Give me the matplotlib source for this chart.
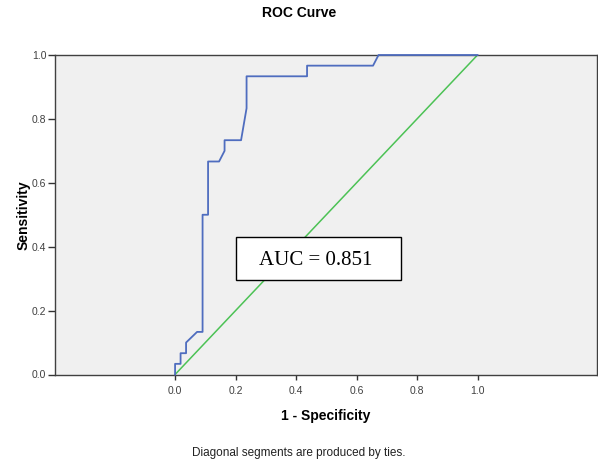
import matplotlib
matplotlib.use("Agg")
import matplotlib.pyplot as plt
from matplotlib.patches import Rectangle

# ROC curve data (55 negatives, 30 positives)
fpr = [0, 0, 1/55, 1/55, 2/55, 2/55, 4/55, 5/55, 5/55, 6/55, 6/55, 8/55, 9/55, 9/55,
       12/55, 13/55, 13/55, 24/55, 24/55, 36/55, 37/55, 1.0]
tpr = [0, 1/30, 1/30, 2/30, 2/30, 3/30, 4/30, 4/30, 15/30, 15/30, 20/30, 20/30, 21/30, 22/30,
       22/30, 25/30, 28/30, 28/30, 29/30, 29/30, 1.0, 1.0]
ref_x = [0, 1]
ref_y = [0, 1]
auc_text = "AUC = 0.851"
xticks = [0.0, 0.2, 0.4, 0.6, 0.8, 1.0]
yticks = [0.0, 0.2, 0.4, 0.6, 0.8, 1.0]

plt.rcParams['font.family'] = ['Liberation Sans', 'DejaVu Sans']

fig = plt.figure(figsize=(5.98, 4.66), dpi=100)
ax = fig.add_axes([55/598, 1-374.5/466, (597-55)/598, (374.5-55)/466])
ax.set_facecolor('#f0f0f0')

ax.plot(ref_x, ref_y, color='#4cc255', lw=1.1, zorder=2)
ax.plot(fpr, tpr, color='#4f6dbf', lw=1.3, zorder=3, clip_on=False)

ax.set_xlim(-0.397, 1.395)
ax.set_ylim(0, 1)
ax.set_xticks(xticks)
ax.set_xticklabels([f"{v:.1f}" for v in xticks])
ax.set_yticks(yticks)
ax.set_yticklabels([f"{v:.1f}" for v in yticks])
ax.tick_params(axis='both', labelsize=7.5, labelcolor='#404040', color='#333333',
               width=1, direction='out')
ax.tick_params(axis='x', length=3.6, pad=5)
ax.tick_params(axis='y', length=5, pad=1.2)
for s in ax.spines.values():
    s.set_color('#404040')
    s.set_linewidth(1.0)

ax.set_xlabel("1 - Specificity", fontsize=10, fontweight='bold', labelpad=9)
ax.set_ylabel("Sensitivity", fontsize=10, fontweight='bold')
ax.yaxis.set_label_coords((31 - 55) / 542, 0.5)

# AUC box
ax.add_patch(Rectangle((0.2, 0.295), 0.547, 0.134, facecolor='white',
                       edgecolor='black', lw=1.0, zorder=4))
ax.text(0.465, 0.358, auc_text, fontsize=15, family=['Liberation Serif', 'DejaVu Serif'],
        ha='center', va='center', zorder=5)

fig.text(0.5, 1-13/466, "ROC Curve", fontsize=10, fontweight='bold', ha='center', va='center')
fig.text(0.5, 1-453/466, "Diagonal segments are produced by ties.", fontsize=8.5,
         ha='center', va='center', color='#222222')

fig.savefig("out.png", dpi=100)
